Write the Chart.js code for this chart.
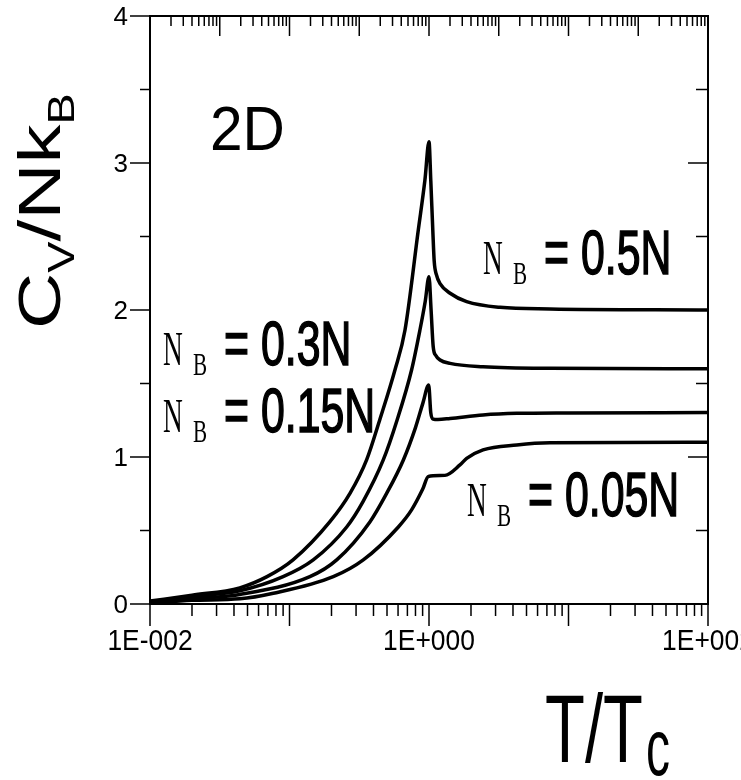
<!DOCTYPE html>
<html>
<head>
<meta charset="utf-8">
<script src="https://cdn.jsdelivr.net/npm/chart.js@4"></script>
<style>
  html, body { margin: 0; padding: 0; background: #fff; }
  canvas { display: block; }
</style>
</head>
<body>
<canvas id="canvas" width="741" height="780"></canvas>
<script>
// T/Tc and Cv/NkB, one pair of arrays per curve
var tHalf = [0.01, 0.02, 0.044, 0.069, 0.106, 0.195, 0.272, 0.357, 0.446, 0.57, 0.673, 0.838, 0.935, 1.0, 1.03, 1.065, 1.09, 1.13, 1.2, 1.416, 1.862, 3.23, 7.36, 100];
var cvHalf = [0.02, 0.06, 0.11, 0.186, 0.30, 0.56, 0.754, 0.98, 1.26, 1.592, 1.864, 2.544, 2.884, 3.145, 2.88, 2.54, 2.33, 2.24, 2.18, 2.114, 2.057, 2.018, 2.007, 2.0];

var t030 = [0.01, 0.02, 0.044, 0.09, 0.148, 0.257, 0.338, 0.47, 0.59, 0.75, 0.861, 0.94, 1.0, 1.035, 1.072, 1.12, 1.2, 1.416, 2.44, 7.36, 100];
var cv030 = [0.015, 0.05, 0.09, 0.186, 0.30, 0.524, 0.70, 0.98, 1.25, 1.592, 1.864, 2.06, 2.227, 2.0, 1.75, 1.69, 1.66, 1.637, 1.614, 1.603, 1.60];

var t015 = [0.01, 0.02, 0.044, 0.14, 0.218, 0.378, 0.498, 0.655, 0.8, 0.906, 0.995, 1.03, 1.07, 1.16, 1.416, 2.44, 4.26, 10, 100];
var cv015 = [0.01, 0.035, 0.065, 0.186, 0.30, 0.56, 0.754, 0.98, 1.2, 1.37, 1.49, 1.30, 1.258, 1.255, 1.262, 1.286, 1.297, 1.30, 1.302];

var t005 = [0.01, 0.02, 0.044, 0.0766, 0.206, 0.338, 0.603, 0.75, 0.9, 0.99, 1.3, 1.667, 1.862, 2.44, 4.26, 7.36, 100];
var cv005 = [0.005, 0.025, 0.035, 0.073, 0.186, 0.30, 0.524, 0.64, 0.78, 0.868, 0.875, 0.946, 0.99, 1.048, 1.082, 1.097, 1.10];

var seriesNames = ['0.5N', '0.3N', '0.15N', '0.05N'];
var yTicks = [0, 1, 2, 3, 4];
var xLabelValues = [0.01, 1, 100];
var xLabels = ['1E-002', '1E+000', '1E+002'];

(function () {
    function points(ts, cvs) {
        return ts.map(function (t, i) { return { x: t, y: cvs[i] }; });
    }

    function curve(name, ts, cvs) {
        return {
            label: name,
            data: points(ts, cvs),
            borderColor: '#000',
            borderWidth: 3.5,
            pointRadius: 0,
            fill: false,
            cubicInterpolationMode: 'monotone'
        };
    }

    // draws text squeezed or stretched horizontally, optionally thickened
    function stretchText(ctx, str, x, y, font, sx, align, thick) {
        ctx.save();
        ctx.translate(x, y);
        ctx.scale(sx, 1);
        ctx.font = font;
        ctx.textAlign = align || 'left';
        ctx.textBaseline = 'alphabetic';
        ctx.fillText(str, 0, 0);
        if (thick) {
            ctx.lineWidth = thick;
            ctx.strokeText(str, 0, 0);
        }
        ctx.restore();
    }

    function drawNB(ctx, name, x, y) {
        stretchText(ctx, 'N', x, y, '48px "Liberation Serif"', 0.57);
        stretchText(ctx, 'B', x + 30, y + 10, '32px "Liberation Serif"', 0.66);
        stretchText(ctx, '= ' + name, x + 61, y, '63px "Liberation Sans"', 0.68, 'left', 1.6);
    }

    function line(ctx, x1, y1, x2, y2) {
        ctx.beginPath();
        ctx.moveTo(x1, y1);
        ctx.lineTo(x2, y2);
        ctx.stroke();
    }

    var frame = {
        id: 'frame',
        afterDraw: function (chart) {
            var ctx = chart.ctx, a = chart.chartArea;
            var sx = chart.scales.x, sy = chart.scales.y, st = chart.scales.xTop;
            ctx.save();
            ctx.strokeStyle = '#000';
            ctx.fillStyle = '#000';
            ctx.lineWidth = 2;
            ctx.strokeRect(a.left, a.top, a.right - a.left, a.bottom - a.top);

            ctx.lineWidth = 1.5;
            // bottom ticks, outward
            for (var e = -2; e <= 2; e++) {
                for (var m = 1; m <= 9; m++) {
                    var v = m * Math.pow(10, e);
                    if (v > 100.0001) break;
                    var px = sx.getPixelForValue(v);
                    line(ctx, px, a.bottom, px, a.bottom + (m === 1 ? 22 : 12));
                }
            }
            // top ticks, inward, on their own log scale
            for (var k = 0; k <= 8; k++) {
                for (var n = 1; n <= 9; n++) {
                    var w = n * Math.pow(10, k);
                    if (w > 1e8 * 1.0001) break;
                    var tx = st.getPixelForValue(w);
                    line(ctx, tx, a.top, tx, a.top + (n === 1 ? 20 : 10));
                }
            }
            // left (outward) and right (inward) ticks
            for (var j = 0; j <= 8; j++) {
                var yv = j / 2;
                var py = sy.getPixelForValue(yv);
                var major = j % 2 === 0;
                line(ctx, a.left - (major ? 20 : 10), py, a.left, py);
                line(ctx, a.right, py, a.right - (major ? 20 : 12), py);
            }

            // tick labels
            yTicks.forEach(function (t) {
                stretchText(ctx, String(t), 128, sy.getPixelForValue(t) + 9, '26px "Liberation Sans"', 1, 'right');
            });
            xLabelValues.forEach(function (t, i) {
                stretchText(ctx, xLabels[i], sx.getPixelForValue(t), 650, '30px "Liberation Sans"', 0.88, 'center');
            });

            // panel tag and curve labels
            stretchText(ctx, '2D', 210, 150, '63px "Liberation Sans"', 0.93);
            drawNB(ctx, seriesNames[0], 483, 274);
            drawNB(ctx, seriesNames[1], 163, 365);
            drawNB(ctx, seriesNames[2], 163, 432);
            drawNB(ctx, seriesNames[3], 467, 516);

            // x title T/Tc
            ctx.save();
            ctx.translate(545, 762);
            ctx.scale(0.68, 1);
            ctx.font = '96px "Liberation Sans"';
            ctx.fillText('T/T', 0, 0);
            var tw = ctx.measureText('T/T').width;
            ctx.restore();
            stretchText(ctx, 'c', 545 + tw * 0.68 + 3, 775, '80px "Liberation Sans"', 0.6);

            // y title Cv/NkB, rotated
            ctx.save();
            ctx.translate(60, 329);
            ctx.rotate(-Math.PI / 2);
            ctx.scale(1.3, 1);
            ctx.textBaseline = 'alphabetic';
            var x0 = 0;
            ctx.font = '60px "Liberation Sans"';
            ctx.fillText('C', x0, 0);
            x0 += ctx.measureText('C').width;
            ctx.font = '36px "Liberation Sans"';
            ctx.fillText('V', x0, 14);
            x0 += ctx.measureText('V').width;
            ctx.font = '60px "Liberation Sans"';
            ctx.fillText('/Nk', x0, 0);
            x0 += ctx.measureText('/Nk').width;
            ctx.font = '36px "Liberation Sans"';
            ctx.fillText('B', x0, 14);
            ctx.restore();

            ctx.restore();
        }
    };

    var ctx = document.getElementById('canvas').getContext('2d');
    var chart = new Chart(ctx, {
        type: 'line',
        data: {
            datasets: [
                curve(seriesNames[0], tHalf, cvHalf),
                curve(seriesNames[1], t030, cv030),
                curve(seriesNames[2], t015, cv015),
                curve(seriesNames[3], t005, cv005)
            ]
        },
        options: {
            responsive: false,
            animation: false,
            devicePixelRatio: 1,
            layout: { padding: { left: 150, right: 33, top: 16, bottom: 176 } },
            plugins: { legend: { display: false }, tooltip: { enabled: false } },
            scales: {
                x: { type: 'logarithmic', min: 0.01, max: 100, display: false },
                xTop: { type: 'logarithmic', axis: 'x', position: 'top', min: 1, max: 1e8, display: false },
                y: { type: 'linear', min: 0, max: 4, display: false }
            }
        },
        plugins: [frame]
    });
})();
</script>
</body>
</html>
